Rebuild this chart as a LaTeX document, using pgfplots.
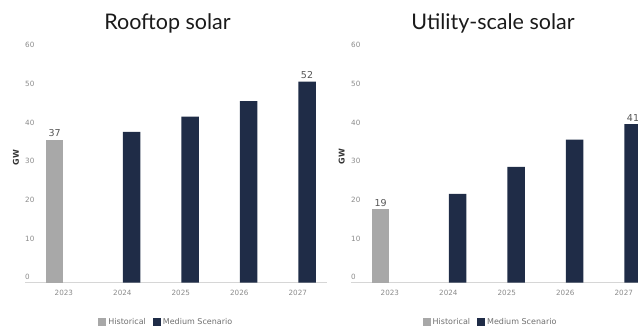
\documentclass[border=0pt]{standalone}
\usepackage{pgfplots}
\pgfplotsset{compat=1.18}
\usepackage{fontspec}
\setmainfont{DejaVu Sans}
\newfontfamily\titlefont{Lato}
\definecolor{navy}{HTML}{1F2C47}
\definecolor{hist}{HTML}{A8A8A8}
\definecolor{axl}{HTML}{D6D6D6}
\definecolor{tickc}{HTML}{8A8A8A}
\definecolor{valc}{HTML}{555555}
\definecolor{titc}{HTML}{1A1A1A}
\pgfplotsset{
  mystyle/.style={
    scale only axis, width=302bp, height=231.9bp,
    ybar=1bp, bar width=17.5bp,
    xmin=-0.665, xmax=4.5, ymin=0, ymax=60,
    xtick={0,1,2,3,4}, xticklabels={2023,2024,2025,2026,2027},
    ytick={0,10,20,30,40,50,60},
    axis x line*=bottom, axis y line*=left,
    x axis line style={draw=axl, line width=1.3bp, -},
    y axis line style={draw=none},
    major tick length=0pt,
    tick label style={font=\fontsize{7.2bp}{8bp}\selectfont, text=tickc},
    /pgf/number format/assume math mode=true,
    /pgf/number format/1000 sep={},
    xticklabel style={anchor=north, inner sep=0pt, yshift=-7.5bp},
    yticklabel style={anchor=base west, inner sep=0pt, yshift=3bp},
    ylabel={GW},
    ylabel style={font=\bfseries\fontsize{8bp}{9bp}\selectfont, text=black!80, anchor=center},
    point meta=explicit symbolic,
    nodes near coords,
    nodes near coords style={font=\fontsize{9.5bp}{10bp}\selectfont, text=valc, inner sep=0pt, anchor=south, yshift=2.5bp},
    legend columns=2,
    legend style={draw=none, fill=none, font=\fontsize{8bp}{9bp}\selectfont, text=tickc!80!black, anchor=center,
      /tikz/every odd column/.append style={column sep=0bp},
      /tikz/every even column/.append style={column sep=5bp},
      legend cell align=left},
    legend image code/.code={\fill[##1] (0bp,-4bp) rectangle (8bp,4bp);},
  }
}
\begin{document}
\begin{tikzpicture}
\clip (0,0) rectangle (638bp,327bp);
\useasboundingbox (0,0) rectangle (638bp,327bp);
\begin{axis}[mystyle, at={(25bp,44.3bp)}, anchor=south west,
  ylabel style={at={(axis description cs:-0.0298,0.54)}},
  legend style={at={(rel axis cs:0.468,-0.1695)}}]
\addplot[fill=hist, draw=none] table[x=x, y=y, meta=lab] {
x y lab
0 37 37
};
\addplot[fill=navy, draw=none] table[x=x, y=y, meta=lab] {
x y lab
1 39 {}
2 43 {}
3 47 {}
4 52 52
};
\legend{Historical, Medium Scenario}
\end{axis}
\begin{axis}[mystyle, at={(351bp,44.3bp)}, anchor=south west,
  ylabel style={at={(axis description cs:-0.031,0.545)}},
  legend style={at={(rel axis cs:0.462,-0.1695)}}]
\addplot[fill=hist, draw=none] table[x=x, y=y, meta=lab] {
x y lab
0 19 19
};
\addplot[fill=navy, draw=none] table[x=x, y=y, meta=lab] {
x y lab
1 23 {}
2 30 {}
3 37 {}
4 41 41
};
\legend{Historical, Medium Scenario}
\end{axis}
\node[font=\titlefont\fontsize{21.5bp}{23bp}\selectfont, text=titc, anchor=base] at (167.5bp,297bp) {Rooftop solar};
\node[font=\titlefont\fontsize{21.5bp}{23bp}\selectfont, text=titc, anchor=base] at (493bp,297bp) {Utility-scale solar};
\end{tikzpicture}
\end{document}
